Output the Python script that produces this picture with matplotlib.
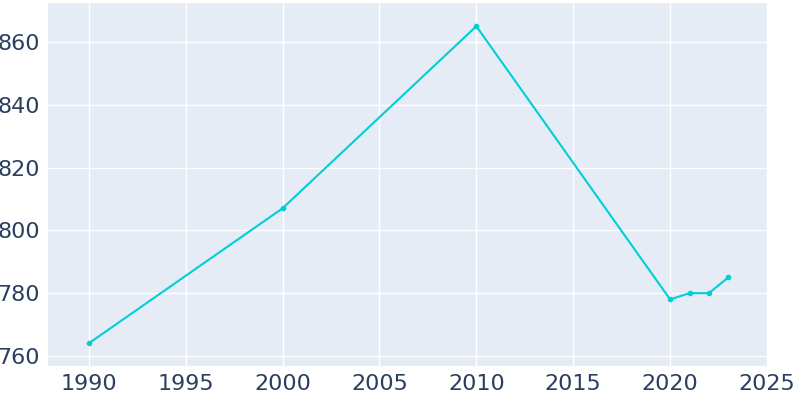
import matplotlib
matplotlib.use("Agg")
import matplotlib.pyplot as plt

years = [1990, 2000, 2010, 2020, 2021, 2022, 2023]
population = [764, 807, 865, 778, 780, 780, 785]
xticks = [1990, 1995, 2000, 2005, 2010, 2015, 2020, 2025]
yticks = [760, 780, 800, 820, 840, 860]

fig = plt.figure(figsize=(8, 4), dpi=100)
ax = fig.add_axes([0.06, 0.085, 0.9, 0.9075])
ax.set_facecolor("#e5ecf6")
ax.plot(years, population, color="#00cfd5", linewidth=1.5, marker="o", markersize=3)
ax.set_xlim(1987.9, 2025.05)
ax.set_ylim(756.8, 872.4)
ax.set_xticks(xticks)
ax.set_yticks(yticks)
ax.grid(color="white", linewidth=1)
ax.set_axisbelow(True)
for s in ax.spines.values():
    s.set_visible(False)
ax.tick_params(length=0, labelsize=16, labelcolor="#2a3f5f", pad=6)
fig.savefig("out.png")
